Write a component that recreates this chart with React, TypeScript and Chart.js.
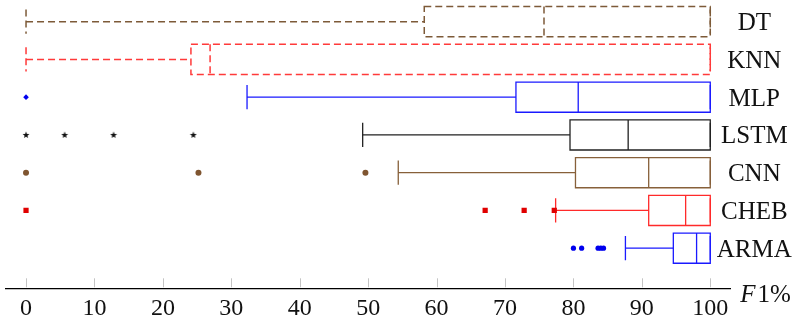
import React, { useEffect, useRef } from "react";
import { Chart, registerables } from "chart.js";

Chart.register(...registerables);

// ---- Data ----
const categories = ["DT", "KNN", "MLP", "LSTM", "CNN", "CHEB", "ARMA"];
const lowerWhisker = [0, 0, 32.3, 49.2, 54.4, 77.4, 87.6];
const lowerQuartile = [58.2, 24.1, 71.6, 79.5, 80.3, 91.0, 94.6];
const medians = [75.7, 26.9, 80.7, 88.0, 91.0, 96.4, 98.0];
const upperQuartile = [100, 100, 100, 100, 100, 100, 100];
const upperWhisker = [100, 100, 100, 100, 100, 100, 100];

const outliersMLP = [0];
const outliersLSTM = [0, 5.65, 12.8, 24.45];
const outliersCNN = [0, 25.2, 49.6];
const outliersCHEB = [0, 67.1, 72.8, 77.2];
const outliersARMA = [80.0, 81.2, 83.6, 84.0, 84.4];

const xTicks = [0, 10, 20, 30, 40, 50, 60, 70, 80, 90, 100];
const xLabel = ["F", "1%"];

// ---- Styles ----
const boxColors = ["#7d5a38", "#ff3a3a", "#1a1aff", "#222222", "#87603a", "#ff2a2a", "#1a1aff"];
const boxDashed = [true, true, false, false, false, false, false];
const SERIF = "'Liberation Serif', 'Times New Roman', serif";

function makeStar(): HTMLCanvasElement {
  const c = document.createElement("canvas");
  c.width = 8;
  c.height = 8;
  const g = c.getContext("2d")!;
  g.fillStyle = "#111";
  g.beginPath();
  const cx = 4, cy = 4.2, R = 3.6, r = 1.5;
  for (let k = 0; k < 10; k++) {
    const rad = k % 2 === 0 ? R : r;
    const a = -Math.PI / 2 + (k * Math.PI) / 5;
    const px = cx + rad * Math.cos(a);
    const py = cy + rad * Math.sin(a);
    if (k === 0) g.moveTo(px, py);
    else g.lineTo(px, py);
  }
  g.closePath();
  g.fill();
  return c;
}

const boxPlugin = {
  id: "boxes",
  beforeDatasetsDraw(chart: any) {
    const { ctx, scales } = chart;
    const xs = scales.x;
    const ys = scales.y;
    ctx.save();
    for (let i = 0; i < categories.length; i++) {
      const yc = ys.getPixelForValue(i);
      const yt = ys.getPixelForValue(i - 0.4);
      const yb = ys.getPixelForValue(i + 0.4);
      const wt = ys.getPixelForValue(i - 0.32);
      const wb = ys.getPixelForValue(i + 0.32);
      const xlw = xs.getPixelForValue(lowerWhisker[i]);
      const xq1 = xs.getPixelForValue(lowerQuartile[i]);
      const xm = xs.getPixelForValue(medians[i]);
      const xq3 = xs.getPixelForValue(upperQuartile[i]);
      const xuw = xs.getPixelForValue(upperWhisker[i]);
      ctx.strokeStyle = boxColors[i];
      ctx.lineWidth = boxDashed[i] ? 1.5 : 1.3;
      ctx.setLineDash(boxDashed[i] ? [7, 4] : []);
      ctx.beginPath();
      // lower whisker
      ctx.moveTo(xlw, yc);
      ctx.lineTo(xq1, yc);
      ctx.moveTo(xlw, wt);
      ctx.lineTo(xlw, wb);
      // upper whisker
      ctx.moveTo(xq3, yc);
      ctx.lineTo(xuw, yc);
      ctx.moveTo(xuw, wt);
      ctx.lineTo(xuw, wb);
      ctx.stroke();
      ctx.beginPath();
      ctx.rect(xq1, yt, xq3 - xq1, yb - yt);
      ctx.moveTo(xm, yt);
      ctx.lineTo(xm, yb);
      ctx.stroke();
    }
    ctx.restore();
  },
  afterDraw(chart: any) {
    const { ctx, scales, chartArea } = chart;
    const xs = scales.x;
    const ys = scales.y;
    ctx.save();
    // inward tick marks
    ctx.strokeStyle = "#c4c4c4";
    ctx.lineWidth = 1;
    ctx.setLineDash([]);
    for (const t of xs.ticks) {
      const px = Math.round(xs.getPixelForValue(t.value)) + 0.5;
      ctx.beginPath();
      ctx.moveTo(px, chartArea.bottom - 10);
      ctx.lineTo(px, chartArea.bottom - 1);
      ctx.stroke();
    }
    // category labels on the right
    ctx.fillStyle = "#111";
    ctx.font = `25px ${SERIF}`;
    ctx.textAlign = "center";
    ctx.textBaseline = "alphabetic";
    const lx = chartArea.right + 23.5;
    for (let i = 0; i < categories.length; i++) {
      ctx.fillText(categories[i], lx, ys.getPixelForValue(i) + 8.5);
    }
    // axis label F1%
    ctx.textAlign = "left";
    const ax = chartArea.right + 9.5;
    const ay = chartArea.bottom + 14;
    ctx.font = `italic 25px ${SERIF}`;
    ctx.fillText(xLabel[0], ax, ay);
    const w = ctx.measureText(xLabel[0]).width;
    ctx.font = `25px ${SERIF}`;
    ctx.fillText(xLabel[1], ax + w + 2, ay);
    ctx.restore();
  },
};

export default function App() {
  const ref = useRef<HTMLCanvasElement | null>(null);
  useEffect(() => {
    if (!ref.current) return;
    const star = makeStar();
    const pts = (vals: number[], row: number) => vals.map((v) => ({ x: v, y: row }));
    const chart = new Chart(ref.current, {
      type: "scatter",
      data: {
        datasets: [
          { label: "MLP", data: pts(outliersMLP, 2), pointStyle: "rectRot", pointRadius: 2.8, backgroundColor: "#0000ee", borderColor: "#0000ee", borderWidth: 0 },
          { label: "LSTM", data: pts(outliersLSTM, 3), pointStyle: star as any, pointRadius: 4, backgroundColor: "#111", borderColor: "#111" },
          { label: "CNN", data: pts(outliersCNN, 4), pointStyle: "circle", pointRadius: 3, backgroundColor: "#7f5530", borderColor: "#7f5530", borderWidth: 0 },
          { label: "CHEB", data: pts(outliersCHEB, 5), pointStyle: "rect", pointRadius: 3.7, backgroundColor: "#e00000", borderColor: "#e00000", borderWidth: 0 },
          { label: "ARMA", data: pts(outliersARMA, 6), pointStyle: "circle", pointRadius: 2.6, backgroundColor: "#0000ee", borderColor: "#0000ee", borderWidth: 0 },
        ],
      },
      options: {
        animation: false,
        responsive: true,
        maintainAspectRatio: false,
        layout: { padding: { left: 5.5, right: 75.2, top: 0, bottom: 0 } },
        plugins: { legend: { display: false }, tooltip: { enabled: false } },
        scales: {
          x: {
            type: "linear",
            position: "bottom",
            min: -3,
            max: 103,
            afterBuildTicks: (scale: any) => {
              scale.ticks = xTicks.map((v) => ({ value: v }));
            },
            afterFit: (scale: any) => {
              scale.height = 37.7;
            },
            grid: { display: false, drawTicks: false },
            border: { display: true, color: "#000", width: 1.2 },
            ticks: {
              padding: 6,
              color: "#111",
              font: { family: SERIF, size: 24 },
              maxRotation: 0,
              autoSkip: false,
            },
          },
          y: {
            type: "linear",
            display: false,
            reverse: true,
            min: -0.441,
            max: 7.064,
          },
        },
      },
      plugins: [boxPlugin],
    });
    return () => chart.destroy();
  }, []);
  return (
    <div style={{ position: "fixed", left: 0, top: 0, width: 806, height: 326, background: "#fff" }}>
      <canvas ref={ref} />
    </div>
  );
}
